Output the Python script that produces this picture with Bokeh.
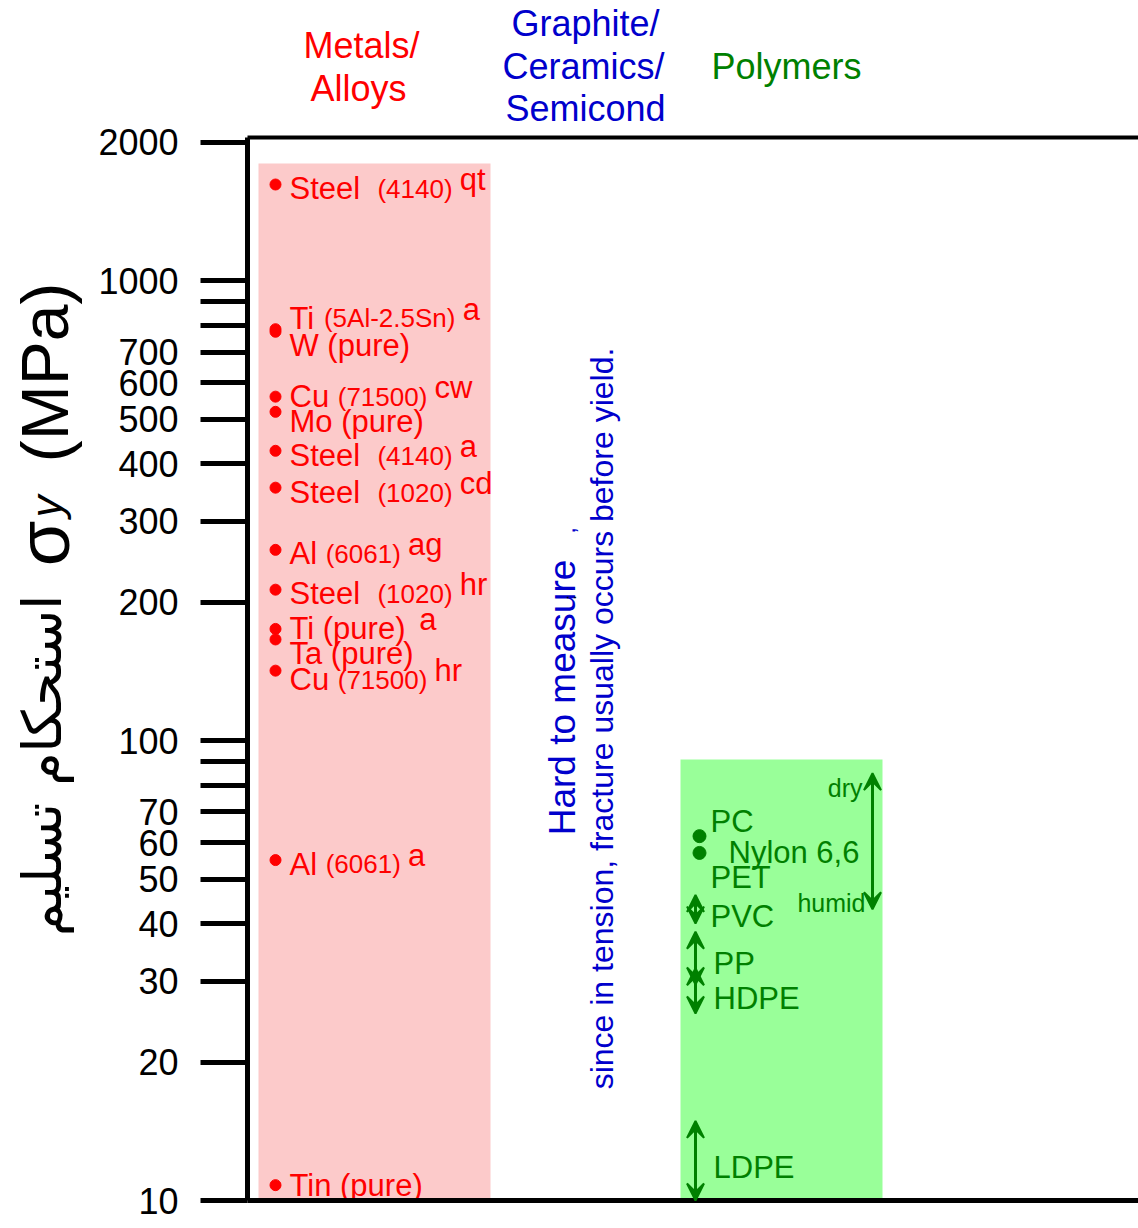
import math
from bokeh.plotting import figure
from bokeh.models import (ColumnDataSource, Range1d, FixedTicker, LinearAxis,
                          LogAxis, Label, Arrow, VeeHead)
from bokeh.core.properties import value
from bokeh.embed import file_html
from bokeh.resources import INLINE

# ---------------- data ----------------
metal_names = ["Steel", "Ti", "W (pure)", "Cu", "Mo (pure)", "Steel", "Steel",
               "Al", "Steel", "Ti (pure)", "Ta  (pure)", "Cu", "Al", "Tin (pure)"]
metal_codes = ["(4140)", "(5Al-2.5Sn)", "", "(71500)", "", "(4140)", "(1020)",
               "(6061)", "(1020)", "", "", "(71500)", "(6061)", ""]
metal_conditions = ["qt", "a", "", "cw", "", "a", "cd", "ag", "hr", "a", "",
                    "hr", "a", ""]
metal_yield = [1620, 785, 775, 560, 519, 427, 355, 260, 213, 175, 166, 142, 55, 10.8]

polymer_point_names = ["PC", "PET"]
polymer_point_yield = [62, 57]

polymer_range_names = ["Nylon 6,6", "PVC", "PP", "HDPE", "LDPE"]
polymer_range_low = [43, 40, 29.5, 25.5, 10]
polymer_range_high = [85, 46.2, 38.4, 32, 14.9]

metal_band = (10, 1800)
polymer_band = (10, 91)

y_ticks = [10, 20, 30, 40, 50, 60, 70, 80, 90, 100, 200, 300, 400, 500, 600,
           700, 800, 900, 1000, 2000]
y_unlabeled = [80, 90, 800, 900]

headers = {"metals": ["Metals/", "Alloys"],
           "ceramics": ["Graphite/", "Ceramics/", "Semicond"],
           "polymers": ["Polymers"]}

# ---------------- layout helpers ----------------
FONT = "Liberation Sans"
RED = "#ff0000"
GREEN = "#008000"
BLUE = "#0000cc"
Y_LO, Y_HI = 10, 2050
W, H = 1138, 1228
FRAME_TOP, FRAME_BOT = 137, 1200     # page pixels of Y_HI and Y_LO
FRAME_LEFT = 247                     # page pixel of the y axis


def dx(px):
    return (px - FRAME_LEFT) / 100.0


def vy(py):
    return 10 ** (math.log10(Y_LO) + (FRAME_BOT - py) *
                  math.log10(Y_HI / Y_LO) / (FRAME_BOT - FRAME_TOP))


ARIAL = {" ": 278, "(": 333, ")": 333, "-": 333, ".": 278, ",": 278, "/": 278,
         "A": 667, "C": 722, "D": 722, "E": 667, "H": 722, "L": 556, "M": 833,
         "N": 722, "P": 667, "S": 667, "T": 611, "V": 667, "W": 944,
         "a": 556, "b": 556, "c": 500, "d": 556, "e": 556, "f": 278, "g": 556,
         "h": 556, "i": 222, "l": 222, "m": 833, "n": 556, "o": 556, "p": 556,
         "q": 556, "r": 333, "s": 500, "t": 278, "u": 556, "w": 722, "y": 500}


def tw(s, size):
    return sum(ARIAL.get(c, 556) for c in s) * size / 1000.0


X_END = dx(W)

# ---------------- figure ----------------
p = figure(width=W, height=H, x_range=Range1d(dx(0), X_END),
           y_range=Range1d(vy(H), vy(0)), y_axis_type="log",
           x_axis_location=None, y_axis_location=None,
           output_backend="svg", toolbar_location=None,
           min_border=0)
p.outline_line_color = None
p.grid.grid_line_color = None
p.background_fill_color = "white"
p.border_fill_color = "white"

ya = LogAxis(fixed_location=0, bounds=(Y_LO, Y_HI),
             ticker=FixedTicker(ticks=y_ticks))
ya.major_label_overrides = {t: ("" if t in y_unlabeled else str(t)) for t in y_ticks}
ya.major_tick_in = 0
ya.major_tick_out = 47
ya.major_tick_line_width = 5
ya.minor_tick_line_color = None
ya.axis_line_width = 5
ya.major_label_standoff = 22
ya.major_label_text_font = FONT
ya.major_label_text_font_size = "36px"
ya.major_label_text_color = "black"
p.add_layout(ya, "left")

for loc, side, lw in [(Y_LO, "below", 5), (Y_HI, "above", 4)]:
    ax = LinearAxis(fixed_location=loc, bounds=(0, X_END),
                    ticker=FixedTicker(ticks=[]), major_tick_line_color=None,
                    minor_tick_line_color=None, major_label_text_font_size="0px",
                    axis_line_width=lw)
    p.add_layout(ax, side)

# bands
p.quad(left=[dx(258)], right=[dx(490)], bottom=[metal_band[0]], top=[metal_band[1]],
       fill_color="#fccaca", line_color=None)
p.quad(left=[dx(680)], right=[dx(882)], bottom=[polymer_band[0]], top=[polymer_band[1]],
       fill_color="#99ff99", line_color=None)

# ---------------- metals ----------------
metal_nudge = [3, -12, 13, -1, 9, 4, 4, 3, 3, -1, 13, 8, 3, -1]
NAME_SZ, CODE_SZ, SUP_SZ = 31, 26, 31
lx = dx(289)
code_off, sup_off = [], []
for n, c in zip(metal_names, metal_codes):
    gap = 2 if n == "Steel" else 1
    co = tw(n, NAME_SZ) + gap * tw(" ", NAME_SZ)
    code_off.append(co)
    if c:
        sup_off.append(co + tw(c, CODE_SZ) + tw(" ", CODE_SZ))
    else:
        sup_off.append(tw(n, NAME_SZ) + tw(" ", NAME_SZ) + 4)

msrc = ColumnDataSource(dict(
    x=[dx(275)] * len(metal_yield), lx=[lx] * len(metal_yield), y=metal_yield,
    name=metal_names, code=metal_codes, cond=metal_conditions,
    yo_main=[n + 1 for n in metal_nudge], yo_sup=[n - 8 for n in metal_nudge],
    code_off=code_off, sup_off=sup_off))

p.scatter("x", "y", source=msrc, size=11, color=RED)
p.text("lx", "y", text="name", source=msrc, y_offset="yo_main",
       text_font=value(FONT), text_font_size=f"{NAME_SZ}px", text_color=RED,
       text_baseline="alphabetic", text_align="left")
p.text("lx", "y", text="code", source=msrc, x_offset="code_off", y_offset="yo_main",
       text_font=value(FONT), text_font_size=f"{CODE_SZ}px", text_color=RED,
       text_baseline="alphabetic", text_align="left")
p.text("lx", "y", text="cond", source=msrc, x_offset="sup_off", y_offset="yo_sup",
       text_font=value(FONT), text_font_size=f"{SUP_SZ}px", text_color=RED,
       text_baseline="alphabetic", text_align="left")

# ---------------- polymers ----------------
psrc = ColumnDataSource(dict(x=[dx(699)] * 2, lx=[dx(710)] * 2,
                             y=polymer_point_yield, name=polymer_point_names,
                             yo=[-15, 25]))
p.scatter("x", "y", source=psrc, size=13, color=GREEN)
p.text("lx", "y", text="name", source=psrc, y_offset="yo",
       text_font=value(FONT), text_font_size="31px", text_color=GREEN,
       text_baseline="middle", text_align="left")

arrow_x = [dx(872), dx(695), dx(695), dx(695), dx(695)]
label_x = [dx(728), dx(710), dx(713), dx(713), dx(713)]
rsrc = ColumnDataSource(dict(
    x=arrow_x, lo=polymer_range_low, hi=polymer_range_high,
    lx=label_x, mid=[math.sqrt(a * b) for a, b in zip(polymer_range_low, polymer_range_high)],
    name=polymer_range_names, yo=[11, 7, 5, 8, 7]))
p.add_layout(Arrow(source=rsrc, x_start="x", y_start="lo", x_end="x", y_end="hi",
                   line_color=GREEN, line_width=3,
                   start=VeeHead(size=17, fill_color=GREEN, line_color=GREEN, line_width=2),
                   end=VeeHead(size=17, fill_color=GREEN, line_color=GREEN, line_width=2)))
p.text("lx", "mid", text="name", source=rsrc, y_offset="yo",
       text_font=value(FONT), text_font_size="31px", text_color=GREEN,
       text_baseline="middle", text_align="left")

nylon_i = polymer_range_names.index("Nylon 6,6")
p.text(x=[dx(862), dx(865)],
       y=[polymer_range_high[nylon_i], polymer_range_low[nylon_i]],
       text=["dry", "humid"], y_offset=[15, -6],
       text_font=value(FONT), text_font_size="25px", text_color=GREEN,
       text_baseline="middle", text_align="right")

# ---------------- ceramics note ----------------
p.text(x=[dx(562)], y=[vy(697)], text=["Hard to measure"], angle=math.pi / 2,
       text_font=value(FONT), text_font_size="37px", text_color=BLUE,
       text_baseline="middle", text_align="center")
p.text(x=[dx(566)], y=[vy(530)], text=[","], angle=math.pi / 2,
       text_font=value(FONT), text_font_size="24px", text_color=BLUE,
       text_baseline="alphabetic", text_align="center")
p.text(x=[dx(570)], y=[vy(597)], text=[":"], angle=math.pi / 2,
       text_font=value(FONT), text_font_size="16px", text_color="black",
       text_baseline="middle", text_align="center")
p.text(x=[dx(601)], y=[vy(718)],
       text=["since in tension, fracture usually occurs before yield."],
       angle=math.pi / 2, text_font=value(FONT), text_font_size="32px",
       text_color=BLUE, text_baseline="middle", text_align="center")

# ---------------- headers ----------------
for txt, px, py in [(headers["metals"][0], 361, 45), (headers["metals"][1], 358, 88),
                    (headers["ceramics"][0], 585, 23), (headers["ceramics"][1], 583, 66),
                    (headers["ceramics"][2], 585, 108), (headers["polymers"][0], 786, 66)]:
    col = RED if txt in headers["metals"] else (BLUE if txt in headers["ceramics"] else GREEN)
    p.add_layout(Label(x=dx(px), y=vy(py), text=txt, text_font=FONT,
                       text_font_size="36px", text_color=col,
                       text_align="center", text_baseline="middle"))

# ---------------- y axis title ----------------
p.add_layout(Label(x=dx(44), y=vy(372), text="(MPa)", angle=math.pi / 2,
                   text_font=FONT, text_font_size="66px", text_color="black",
                   text_align="center", text_baseline="alphabetic"))
p.add_layout(Label(x=dx(43), y=vy(543), text="σ", angle=math.pi / 2,
                   text_font=FONT, text_font_size="74px", text_color="black",
                   text_align="center", text_baseline="alphabetic"))
p.add_layout(Label(x=dx(46), y=vy(506), text="y", angle=math.pi / 2,
                   text_font=FONT, text_font_size="44px", text_font_style="italic",
                   text_color="black", text_align="center", text_baseline="alphabetic"))
p.add_layout(Label(x=dx(42), y=vy(765), text="استحکام تسلیم", angle=math.pi / 2,
                   text_font="DejaVu Sans", text_font_size="54px", text_color="black",
                   text_align="center", text_baseline="alphabetic"))

open("out.html", "w").write(file_html(p, INLINE))
